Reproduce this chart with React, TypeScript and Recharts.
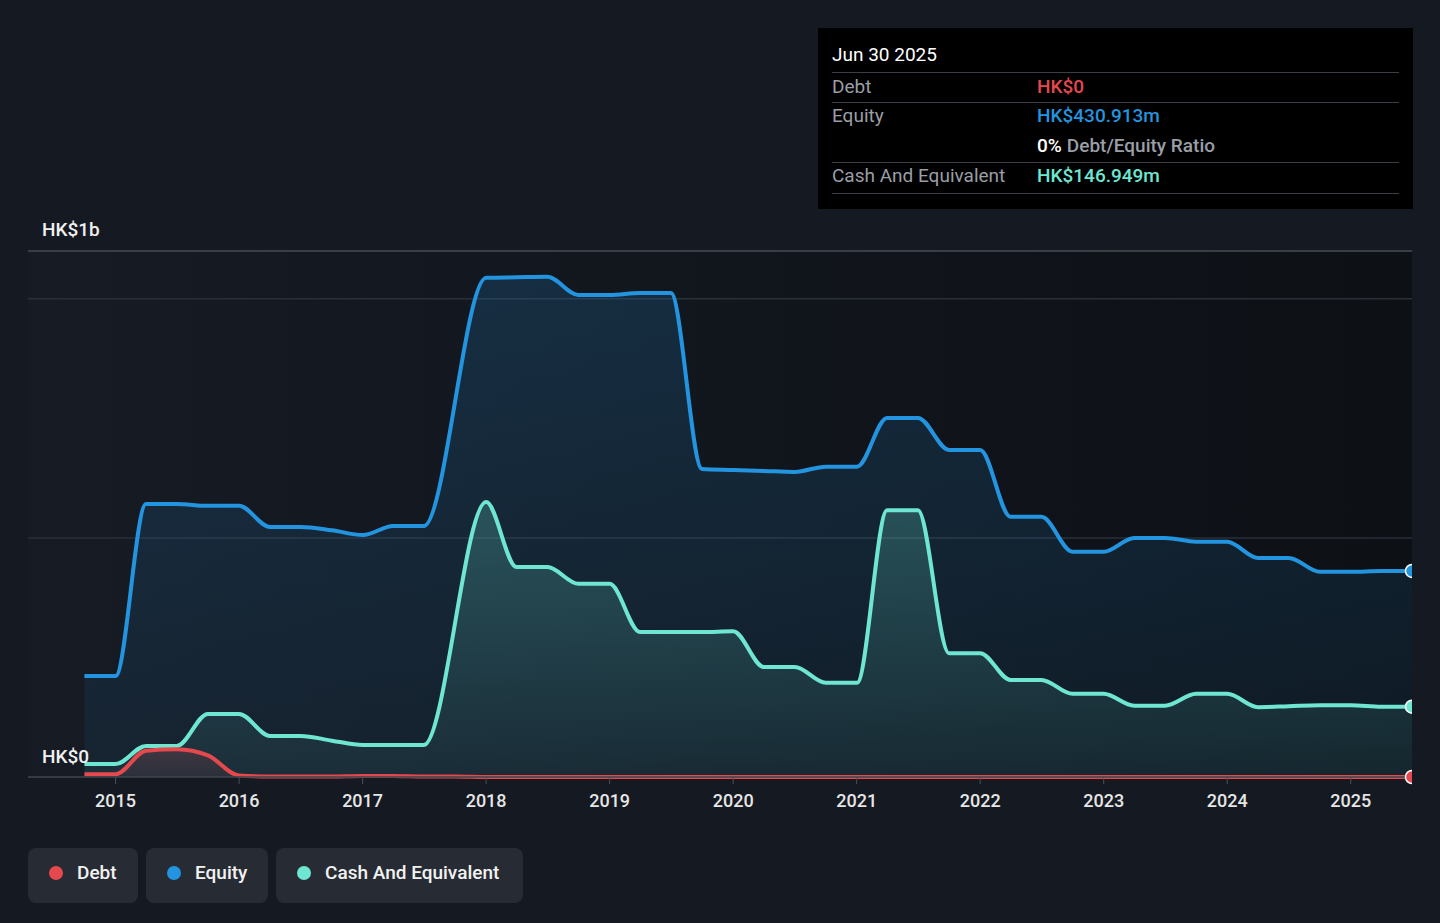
import { Area, CartesianGrid, ComposedChart, ReferenceLine, XAxis, YAxis } from "recharts";

// quarter-end reporting dates
const dates = [
  "2014-09-30", "2014-12-31",
  "2015-03-31", "2015-06-30", "2015-09-30", "2015-12-31",
  "2016-03-31", "2016-06-30", "2016-09-30", "2016-12-31",
  "2017-03-31", "2017-06-30", "2017-09-30", "2017-12-31",
  "2018-03-31", "2018-06-30", "2018-09-30", "2018-12-31",
  "2019-03-31", "2019-06-30", "2019-09-30", "2019-12-31",
  "2020-03-31", "2020-06-30", "2020-09-30", "2020-12-31",
  "2021-03-31", "2021-06-30", "2021-09-30", "2021-12-31",
  "2022-03-31", "2022-06-30", "2022-09-30", "2022-12-31",
  "2023-03-31", "2023-06-30", "2023-09-30", "2023-12-31",
  "2024-03-31", "2024-06-30", "2024-09-30", "2024-12-31",
  "2025-03-31", "2025-06-30",
];

// HK$ millions
const equity = [
  211, 211, 571, 571, 567, 567, 523, 523, 516, 506, 525, 525, null, 1044,
  1045, 1046, 1008, 1008, 1012, 1012, 644, 642, 640, 638, 649, 649, 751, 751,
  684, 684, 544, 544, 471, 471, 500, 500, 492, 492, 458, 458, 429, 429, 431,
  430.913,
];
const cash = [
  27, 27, 65, 65, 132, 132, 86, 86, 76, 67, 67, 67, null, 575,
  439, 439, 404, 404, 303, 303, 303, 305, 230, 230, 197, 197, 558, 558,
  259, 259, 203, 203, 174, 174, 149, 149, 174, 174, 146, 148, 150, 150, 147,
  146.949,
];
const debt = [
  6, 6, 55, 58, 45, 3, 1, 1, 1, 2, 2, 1, 1, 0,
  0, 0, 0, 0, 0, 0, 0, 0, 0, 0, 0, 0, 0, 0,
  0, 0, 0, 0, 0, 0, 0, 0, 0, 0, 0, 0, 0, 0, 0,
  0,
];

const yearTicks = [2015, 2016, 2017, 2018, 2019, 2020, 2021, 2022, 2023, 2024, 2025];

const BG = "#151a22";
const RED = "#e5484d";
const BLUE = "#2394df";
const TEAL = "#6ee6d2";
const FONT = "Roboto, 'Noto Sans', sans-serif";

function toYear(s: string) {
  const [y, m, d] = s.split("-").map(Number);
  const day = (Date.UTC(y, m - 1, d) - Date.UTC(y, 0, 0)) / 86400000;
  return y + day / 365;
}

const data = dates.map((d, i) => ({
  t: toYear(d),
  equity: equity[i],
  cash: cash[i],
  debt: debt[i],
}));

const last = data.length - 1;

function endDot(color: string) {
  return (p: any) =>
    p.index === last ? (
      <circle key={`dot-${p.index}`} cx={p.cx} cy={p.cy} r={6.5} fill={color} stroke="#fff" strokeWidth={1.5} />
    ) : (
      <g key={`dot-${p.index}`} />
    );
}

const legendItems = [
  { label: "Debt", color: RED, left: 28, width: 110 },
  { label: "Equity", color: BLUE, left: 146, width: 122 },
  { label: "Cash And Equivalent", color: TEAL, left: 276, width: 247 },
];

function TooltipBox() {
  const row = { position: "absolute" as const, left: 14, right: 14, height: 30, display: "flex", alignItems: "center" };
  const line = { position: "absolute" as const, left: 14, right: 14, height: 0, borderTop: "1.5px solid #3a3e45" };
  const lab = { width: 205, color: "#9a9ea6" };
  const val = { fontWeight: 500 };
  return (
    <div style={{ position: "absolute", left: 818, top: 28, width: 595, height: 181, background: "#000", fontFamily: FONT, fontSize: 19 }}>
      <div style={{ position: "absolute", left: 14, top: 15, color: "#fff" }}>Jun 30 2025</div>
      <div style={{ ...line, top: 44 }} />
      <div style={{ ...row, top: 43 }}>
        <span style={lab}>Debt</span>
        <span style={{ ...val, color: RED }}>HK$0</span>
      </div>
      <div style={{ ...line, top: 74 }} />
      <div style={{ ...row, top: 72 }}>
        <span style={lab}>Equity</span>
        <span style={{ ...val, color: BLUE }}>HK$430.913m</span>
      </div>
      <div style={{ ...row, top: 102 }}>
        <span style={lab}></span>
        <span style={{ ...val, color: "#fff" }}>0%</span>
        <span style={{ color: "#9a9ea6", marginLeft: 5, fontWeight: 500 }}>Debt/Equity Ratio</span>
      </div>
      <div style={{ ...line, top: 134 }} />
      <div style={{ ...row, top: 132 }}>
        <span style={lab}>Cash And Equivalent</span>
        <span style={{ ...val, color: TEAL }}>HK$146.949m</span>
      </div>
      <div style={{ ...line, top: 165 }} />
    </div>
  );
}

export default function App() {
  return (
    <div style={{ position: "absolute", left: 0, top: 0, width: 1440, height: 923, background: BG, overflow: "hidden", fontFamily: FONT }}>
      <ComposedChart width={1440} height={923} data={data} margin={{ top: 251, right: 28, bottom: 116, left: 28 }}>
        <defs>
          <linearGradient id="plotBg" x1="0" y1="0" x2="1" y2="0">
            <stop offset="0%" stopColor="#161b24" />
            <stop offset="100%" stopColor="#0d1015" />
          </linearGradient>
          <linearGradient id="eqFill" x1="0" y1="0" x2="0" y2="1">
            <stop offset="0%" stopColor={BLUE} stopOpacity={0.3} />
            <stop offset="100%" stopColor={BLUE} stopOpacity={0.12} />
          </linearGradient>
          <linearGradient id="cashFill" x1="0" y1="0" x2="0" y2="1">
            <stop offset="0%" stopColor={TEAL} stopOpacity={0.38} />
            <stop offset="100%" stopColor={TEAL} stopOpacity={0.1} />
          </linearGradient>
          <linearGradient id="debtFill" x1="0" y1="0" x2="0" y2="1">
            <stop offset="0%" stopColor={RED} stopOpacity={0.3} />
            <stop offset="100%" stopColor={RED} stopOpacity={0.12} />
          </linearGradient>
        </defs>
        <CartesianGrid vertical={false} stroke="#2a2f38" strokeWidth={1.5} fill="url(#plotBg)" />
        <XAxis
          type="number"
          dataKey="t"
          domain={[2014.291, 2025.496]}
          ticks={yearTicks}
          tickFormatter={(v: number) => String(v)}
          axisLine={{ stroke: "#3d424a", strokeWidth: 1.5 }}
          tickLine={{ stroke: "#4a4f57" }}
          tickSize={7}
          tickMargin={10}
          tick={{ fill: "#e6e6e6", fontSize: 18, fontFamily: FONT, fontWeight: 500 }}
        />
        <YAxis hide domain={[0, 1100]} ticks={[0, 500, 1000, 1100]} />
        <ReferenceLine y={1100} stroke="#3a3f47" strokeWidth={2} />
        <Area
          type="monotone"
          dataKey="equity"
          stroke={BLUE}
          strokeWidth={4}
          fill="url(#eqFill)"
          connectNulls
          dot={endDot(BLUE)}
          activeDot={false}
          isAnimationActive={false}
        />
        <Area
          type="monotone"
          dataKey="cash"
          stroke={TEAL}
          strokeWidth={4}
          fill="url(#cashFill)"
          connectNulls
          dot={endDot(TEAL)}
          activeDot={false}
          isAnimationActive={false}
        />
        <Area
          type="monotone"
          dataKey="debt"
          stroke={RED}
          strokeWidth={4}
          fill="url(#debtFill)"
          dot={endDot(RED)}
          activeDot={false}
          isAnimationActive={false}
        />
      </ComposedChart>

      {/* clip the end dots at the plot edge */}
      <div style={{ position: "absolute", left: 1412, top: 240, width: 28, height: 560, background: BG }} />

      <div style={{ position: "absolute", left: 42, top: 218, color: "#f0f0f0", fontSize: 19, fontWeight: 500 }}>HK$1b</div>
      <div style={{ position: "absolute", left: 42, top: 745, color: "#f0f0f0", fontSize: 19, fontWeight: 500 }}>HK$0</div>

      <TooltipBox />

      {legendItems.map((it) => (
        <div
          key={it.label}
          style={{
            position: "absolute",
            left: it.left,
            top: 848,
            width: it.width,
            height: 55,
            boxSizing: "border-box",
            paddingBottom: 6,
            borderRadius: 8,
            background: "#272c34",
            display: "flex",
            alignItems: "center",
            color: "#f2f2f2",
            fontSize: 19,
            fontWeight: 500,
          }}
        >
          <span style={{ width: 14, height: 14, borderRadius: 7, background: it.color, marginLeft: 21, marginRight: 14 }} />
          {it.label}
        </div>
      ))}
    </div>
  );
}
